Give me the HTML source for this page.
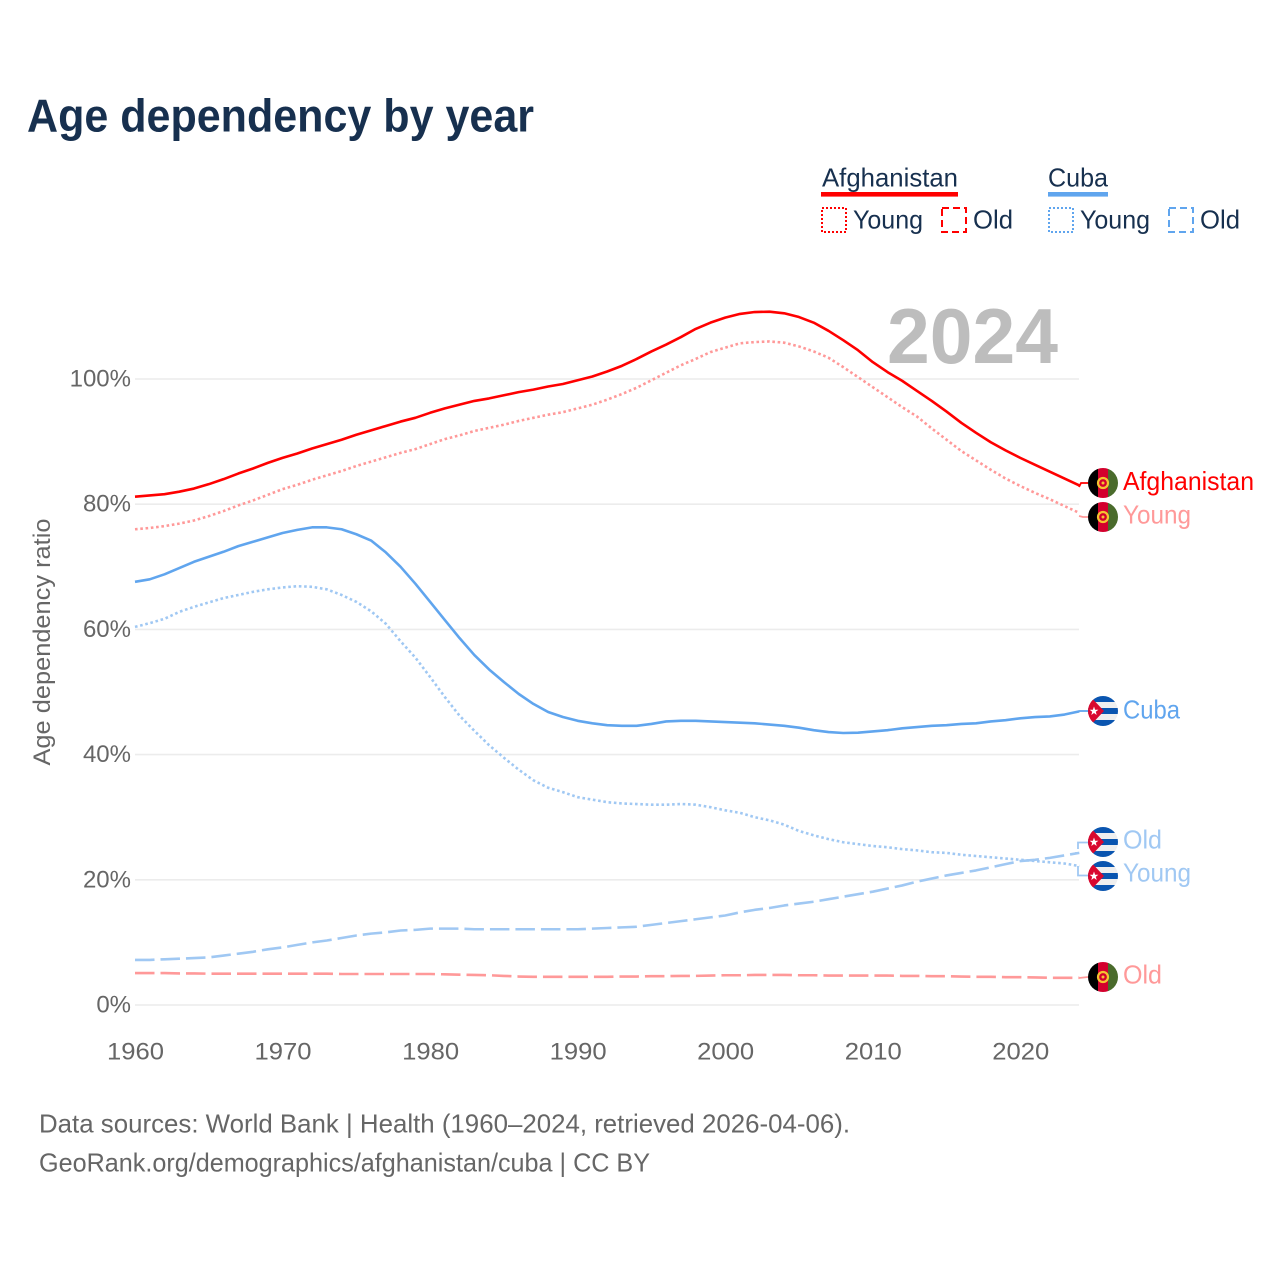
<!DOCTYPE html>
<html lang="en">
<head>
<meta charset="utf-8">
<title>Age dependency by year</title>
<style>
html,body{margin:0;padding:0;background:#fff;}
svg{display:block;font-family:"Liberation Sans",Arial,sans-serif;}
</style>
</head>
<body>
<svg id="chart" xmlns="http://www.w3.org/2000/svg" width="1280" height="1280" viewBox="0 0 1280 1280">
<defs>
  <clipPath id="flag-clip"><circle cx="0" cy="0" r="15"/></clipPath>
  <g id="flag-afghanistan" clip-path="url(#flag-clip)">
    <rect x="-15" y="-15" width="10" height="30" fill="#000"/>
    <rect x="-5" y="-15" width="10" height="30" fill="#d3002d"/>
    <rect x="5" y="-15" width="10" height="30" fill="#4a6b2c"/>
    <circle cx="0" cy="0" r="5" fill="none" stroke="#f4c430" stroke-width="2.2"/>
    <circle cx="0" cy="0" r="1.5" fill="#f4c430"/>
  </g>
  <g id="flag-cuba" clip-path="url(#flag-clip)">
    <rect x="-15" y="-15" width="30" height="30" fill="#efefef"/>
    <rect x="-15" y="-15" width="30" height="6" fill="#0a55b0"/>
    <rect x="-15" y="-3" width="30" height="6" fill="#0a55b0"/>
    <rect x="-15" y="9" width="30" height="6" fill="#0a55b0"/>
    <polygon points="-15,-17 -15,17 1,0" fill="#d9082f"/>
    <polygon points="-9,-4.5 -7.9,-1.3 -4.6,-1.3 -7.2,0.7 -6.3,4 -9,2 -11.7,4 -10.8,0.7 -13.4,-1.3 -10.1,-1.3" fill="#fff"/>
  </g>
</defs>

<text x="27" y="131.5" font-size="46" font-weight="700" fill="#17304f" textLength="507" lengthAdjust="spacingAndGlyphs">Age dependency by year</text>

<g id="legend" font-size="26" fill="#17304f">
  <text x="822" y="186.5" textLength="136" lengthAdjust="spacingAndGlyphs">Afghanistan</text>
  <rect x="821" y="192" width="137" height="4.6" fill="#ff0000"/>
  <rect x="822" y="208" width="24" height="24" fill="none" stroke="#ff0000" stroke-width="2" stroke-dasharray="2 2"/>
  <text x="853" y="228.5" textLength="70" lengthAdjust="spacingAndGlyphs">Young</text>
  <rect x="942" y="208" width="24" height="24" fill="none" stroke="#ff0000" stroke-width="2" stroke-dasharray="7 4"/>
  <text x="973" y="228.5" textLength="40" lengthAdjust="spacingAndGlyphs">Old</text>

  <text x="1048" y="186.5" textLength="60" lengthAdjust="spacingAndGlyphs">Cuba</text>
  <rect x="1048" y="192" width="60" height="4.6" fill="#60a5ee"/>
  <rect x="1049" y="208" width="24" height="24" fill="none" stroke="#60a5ee" stroke-width="2" stroke-dasharray="2 2"/>
  <text x="1080" y="228.5" textLength="70" lengthAdjust="spacingAndGlyphs">Young</text>
  <rect x="1169" y="208" width="24" height="24" fill="none" stroke="#60a5ee" stroke-width="2" stroke-dasharray="7 4"/>
  <text x="1200" y="228.5" textLength="40" lengthAdjust="spacingAndGlyphs">Old</text>
</g>

<g id="grid"></g>
<text x="887" y="363" font-size="78" font-weight="700" fill="#bdbdbd" textLength="171" lengthAdjust="spacingAndGlyphs">2024</text>
<g id="yticks" font-size="24" fill="#666"></g>
<g id="xticks" font-size="24" fill="#666"></g>
<text transform="translate(50,642) rotate(-90)" text-anchor="middle" font-size="24" fill="#666" textLength="247" lengthAdjust="spacingAndGlyphs">Age dependency ratio</text>
<g id="series" fill="none"></g>

<g id="leaders" fill="none" stroke-width="1.8">
  <polyline points="1079,487 1081,483 1088,483" stroke="#ff0000"/>
  <polyline points="1079,516 1083,517 1088,517" stroke="#ff9999"/>
  <polyline points="1079,978 1088,977" stroke="#ff9999"/>
  <polyline points="1079,711 1088,711" stroke="#60a5ee"/>
  <polyline points="1075,853 1078,853 1078,842.5 1088,842.5" stroke="#a0c8f3" stroke-dasharray="3 4 30 1"/>
  <polyline points="1078,866 1078,875.5 1088,875.5" stroke="#a0c8f3"/>
</g>

<g id="end-labels" font-size="26">
  <use href="#flag-afghanistan" x="1103" y="483"/>
  <text x="1123" y="490" fill="#ff0000" textLength="131" lengthAdjust="spacingAndGlyphs">Afghanistan</text>
  <use href="#flag-afghanistan" x="1103" y="517"/>
  <text x="1123" y="523.5" fill="#ff9999" textLength="68" lengthAdjust="spacingAndGlyphs">Young</text>
  <use href="#flag-cuba" x="1103" y="711"/>
  <text x="1123" y="718.5" fill="#60a5ee" textLength="57" lengthAdjust="spacingAndGlyphs">Cuba</text>
  <use href="#flag-cuba" x="1103" y="842"/>
  <text x="1123" y="848.5" fill="#a0c8f3" textLength="39" lengthAdjust="spacingAndGlyphs">Old</text>
  <use href="#flag-cuba" x="1103" y="876"/>
  <text x="1123" y="881.5" fill="#a0c8f3" textLength="68" lengthAdjust="spacingAndGlyphs">Young</text>
  <use href="#flag-afghanistan" x="1103" y="977"/>
  <text x="1123" y="983.5" fill="#ff9999" textLength="39" lengthAdjust="spacingAndGlyphs">Old</text>
</g>

<text x="39" y="1132.5" font-size="26" fill="#666" textLength="811" lengthAdjust="spacingAndGlyphs">Data sources: World Bank | Health (1960–2024, retrieved 2026-04-06).</text>
<text x="39" y="1171.5" font-size="26" fill="#666" textLength="611" lengthAdjust="spacingAndGlyphs">GeoRank.org/demographics/afghanistan/cuba | CC BY</text>
</svg>

<script>
const firstYear = 1960;
const xTickYears = [1960, 1970, 1980, 1990, 2000, 2010, 2020];
const yTickValues = [0, 20, 40, 60, 80, 100];
const afghanistanTotal = [81.2,81.4,81.6,82.0,82.5,83.2,84.0,84.9,85.7,86.6,87.4,88.1,88.9,89.6,90.3,91.1,91.8,92.5,93.2,93.8,94.6,95.3,95.9,96.5,96.9,97.4,97.9,98.3,98.8,99.2,99.8,100.4,101.2,102.1,103.2,104.4,105.5,106.7,108.0,109.0,109.8,110.4,110.7,110.75,110.5,109.9,109.0,107.7,106.2,104.6,102.7,101.1,99.7,98.1,96.5,94.8,93.0,91.4,89.9,88.6,87.4,86.3,85.2,84.1,83.0];
const afghanistanYoung = [76.0,76.2,76.5,76.9,77.4,78.1,78.9,79.8,80.6,81.5,82.4,83.1,83.9,84.6,85.3,86.1,86.8,87.5,88.2,88.8,89.6,90.4,91.0,91.7,92.2,92.7,93.3,93.8,94.3,94.7,95.3,95.9,96.7,97.6,98.6,99.8,101.0,102.2,103.2,104.3,105.0,105.7,105.9,106.0,105.8,105.2,104.4,103.4,101.9,100.3,98.7,97.1,95.5,94.0,92.1,90.3,88.5,87.0,85.5,84.1,82.9,81.8,80.8,79.7,78.6];
const afghanistanOld = [5.1,5.1,5.1,5.05,5.05,5.0,5.0,5.0,5.0,5.0,5.0,5.0,5.0,5.0,4.95,4.95,4.95,4.95,4.95,4.95,4.95,4.9,4.85,4.8,4.75,4.65,4.55,4.5,4.5,4.5,4.5,4.5,4.5,4.55,4.55,4.6,4.6,4.65,4.65,4.7,4.75,4.75,4.8,4.8,4.8,4.75,4.75,4.7,4.7,4.7,4.7,4.7,4.65,4.65,4.6,4.6,4.55,4.5,4.5,4.45,4.45,4.4,4.35,4.35,4.35];
const cubaTotal = [67.6,68.0,68.8,69.8,70.8,71.6,72.4,73.3,74.0,74.7,75.4,75.9,76.3,76.3,76.0,75.2,74.2,72.3,70.0,67.3,64.4,61.5,58.6,55.9,53.6,51.6,49.7,48.1,46.8,46.0,45.4,45.0,44.7,44.6,44.6,44.9,45.3,45.4,45.4,45.3,45.2,45.1,45.0,44.8,44.6,44.3,43.9,43.6,43.45,43.5,43.7,43.9,44.2,44.4,44.6,44.7,44.9,45.0,45.3,45.5,45.8,46.0,46.1,46.4,46.9];
const cubaYoung = [60.4,61.0,61.7,62.8,63.6,64.3,65.0,65.5,66.0,66.4,66.7,66.9,66.8,66.4,65.5,64.4,62.9,60.9,58.1,55.5,52.4,49.2,46.2,43.8,41.5,39.5,37.6,35.9,34.7,34.0,33.2,32.8,32.4,32.2,32.1,32.0,32.0,32.1,32.0,31.6,31.1,30.7,30.0,29.5,28.8,27.8,27.1,26.5,26.0,25.7,25.4,25.2,24.9,24.7,24.4,24.3,24.0,23.8,23.6,23.4,23.2,23.0,22.8,22.6,22.2];
const cubaOld = [7.2,7.2,7.3,7.4,7.5,7.6,7.9,8.2,8.5,8.9,9.2,9.6,10.0,10.3,10.7,11.1,11.4,11.6,11.9,12.0,12.2,12.2,12.2,12.1,12.1,12.1,12.1,12.1,12.1,12.1,12.1,12.2,12.3,12.4,12.5,12.8,13.1,13.4,13.7,14.0,14.3,14.8,15.2,15.5,15.9,16.2,16.5,16.9,17.3,17.7,18.1,18.6,19.1,19.7,20.2,20.7,21.1,21.5,22.0,22.5,23.0,23.2,23.5,23.9,24.3];

const SVGNS = 'http://www.w3.org/2000/svg';
function xScale(year) { return 135 + (year - firstYear) * 14.755; }
function yScale(value) { return 1005 - value * 6.26; }
function seriesPath(values) {
  return values.map(function (v, i) {
    return (i ? 'L' : 'M') + xScale(firstYear + i).toFixed(2) + ' ' + yScale(v).toFixed(2);
  }).join(' ');
}

const gridGroup = document.getElementById('grid');
const yTickGroup = document.getElementById('yticks');
yTickValues.forEach(function (v) {
  const line = document.createElementNS(SVGNS, 'line');
  
  
  line.setAttribute('x1', 135);
  line.setAttribute('x2', 1079);
  line.setAttribute('y1', yScale(v));
  line.setAttribute('y2', yScale(v));
  line.setAttribute('stroke', '#ececec');
  line.setAttribute('stroke-width', 1.6);
  gridGroup.appendChild(line);

  const label = document.createElementNS(SVGNS, 'text');
  
  
  label.setAttribute('x', 131);
  label.setAttribute('y', yScale(v) + 7.5);
  label.setAttribute('text-anchor', 'end');
  label.textContent = v + '%';
  yTickGroup.appendChild(label);
});

const xTickGroup = document.getElementById('xticks');
xTickYears.forEach(function (year) {
  const label = document.createElementNS(SVGNS, 'text');
  
  
  label.setAttribute('x', xScale(year) + 0.5);
  label.setAttribute('y', 1059.5);
  label.setAttribute('text-anchor', 'middle');
  label.setAttribute('textLength', 57);
  label.setAttribute('lengthAdjust', 'spacingAndGlyphs');
  label.textContent = year;
  xTickGroup.appendChild(label);
});

const seriesGroup = document.getElementById('series');
function drawSeries(values, name, color, dash) {
  const path = document.createElementNS(SVGNS, 'path');
  
  
  path.setAttribute('d', seriesPath(values));
  path.setAttribute('stroke', color);
  path.setAttribute('stroke-width', 2.6);
  path.setAttribute('stroke-linejoin', 'round');
  if (dash) path.setAttribute('stroke-dasharray', dash);
  seriesGroup.appendChild(path);
}
drawSeries(afghanistanOld, 'line-afghanistan-old', '#ff9999', '19.5 6');
drawSeries(cubaOld, 'line-cuba-old', '#a0c8f3', '19.5 6');
drawSeries(cubaYoung, 'line-cuba-young', '#a0c8f3', '2.6 2.7');
drawSeries(afghanistanYoung, 'line-afghanistan-young', '#ff9999', '2.6 2.7');
drawSeries(cubaTotal, 'line-cuba-total', '#60a5ee', '');
drawSeries(afghanistanTotal, 'line-afghanistan-total', '#ff0000', '');
</script>
</body>
</html>
